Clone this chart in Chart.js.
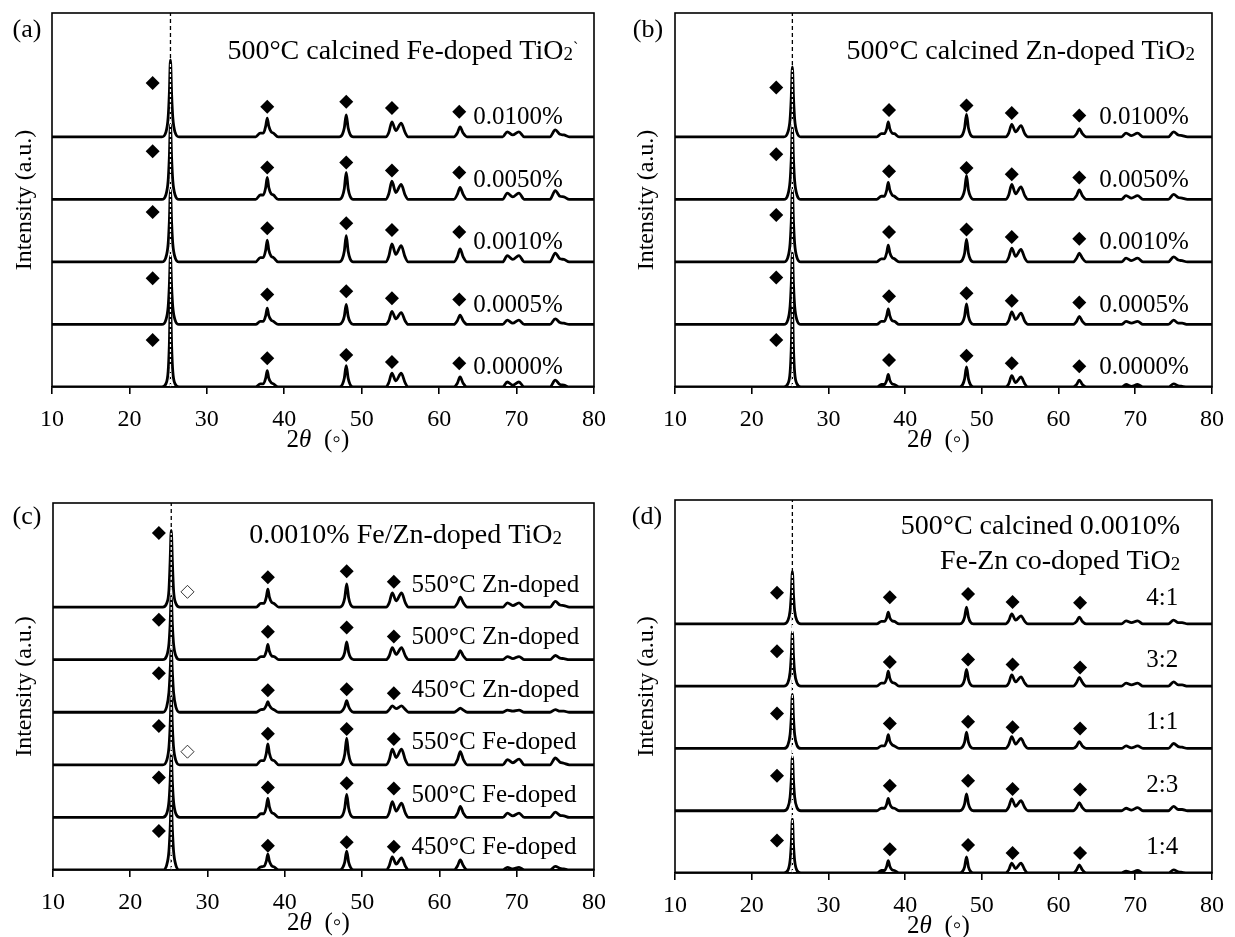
<!DOCTYPE html>
<html lang="en">
<head>
<meta charset="UTF-8">
<title>XRD patterns of doped TiO2</title>
<style>
  body { margin: 0; background: #fff; }
  #wrap { position: relative; width: 1235px; height: 937px; }
  canvas { position: absolute; }
</style>
</head>
<body>
<div id="wrap">
  <canvas id="chartA" width="617" height="468" style="left:0;top:0"></canvas>
  <canvas id="chartB" width="618" height="468" style="left:617px;top:0"></canvas>
  <canvas id="chartC" width="617" height="469" style="left:0;top:468px"></canvas>
  <canvas id="chartD" width="618" height="469" style="left:617px;top:468px"></canvas>
</div>
<script src="https://cdn.jsdelivr.net/npm/chart.js"></script>
<script>
const twoTheta = [10,
  24.2, 24.7, 25.0, 25.15, 25.3, 25.45, 25.6, 25.9, 26.4,
  36.3, 36.9, 37.3, 37.6, 37.8, 38.0, 38.3, 38.6, 39.2,
  47.1, 47.5, 47.75, 48.0, 48.25, 48.5, 48.9,
  53.1, 53.5, 53.9, 54.4, 55.1, 55.6, 56.0,
  61.9, 62.35, 62.7, 63.1, 63.6,
  68.2, 68.8, 69.5, 70.3, 71.0,
  74.3, 75.0, 75.6, 76.1, 76.8,
  80];
const xTicks = [10, 20, 30, 40, 50, 60, 70, 80];

// (a) Fe-doped, 500C (intensity above each baseline, 1 = trace spacing)
const a0100 = [0, 0,.07,.31,.68,1.23,.68,.31,.07,0, 0,.06,.06,.17,.30,.17,.08,.06,0, 0,.04,.14,.35,.14,.04,0, 0,.07,.24,.10,.22,.07,0, 0,.06,.16,.06,0, 0,.08,.03,.08,0, 0,.11,.04,.03,0, 0];
const a0050 = [0, 0,.07,.30,.66,1.20,.66,.30,.07,0, 0,.07,.07,.19,.35,.19,.09,.07,0, 0,.05,.17,.43,.17,.05,0, 0,.09,.29,.11,.24,.07,0, 0,.08,.19,.08,0, 0,.10,.04,.10,0, 0,.14,.05,.04,0, 0];
const a0010 = [0, 0,.07,.29,.63,1.15,.63,.29,.07,0, 0,.07,.07,.19,.35,.19,.09,.07,0, 0,.05,.17,.42,.17,.05,0, 0,.09,.29,.12,.26,.08,0, 0,.08,.21,.08,0, 0,.10,.04,.10,0, 0,.14,.05,.04,0, 0];
const a0005 = [0, 0,.07,.28,.61,1.10,.61,.28,.07,0, 0,.05,.05,.14,.26,.14,.07,.05,0, 0,.04,.13,.32,.13,.04,0, 0,.06,.21,.09,.19,.06,0, 0,.06,.15,.06,0, 0,.07,.02,.07,0, 0,.09,.03,.02,0, 0];
const a0000 = [0, 0,.05,.25,.66,1.40,.66,.25,.05,0, 0,.05,.05,.14,.26,.14,.07,.05,0, 0,.04,.14,.34,.14,.04,0, 0,.07,.22,.10,.22,.07,0, 0,.06,.16,.06,0, 0,.08,.03,.08,0, 0,.11,.04,.03,0, 0];
const labelsA = ['0.0100%', '0.0050%', '0.0010%', '0.0005%', '0.0000%'];
const markA_x = [23.0, 37.8, 48.0, 53.9, 62.6];
const markA = [[0.86,0.48,0.56,0.46,0.40],[0.77,0.51,0.59,0.46,0.43],[0.80,0.54,0.62,0.51,0.48],[0.74,0.48,0.53,0.42,0.40],[0.75,0.46,0.51,0.40,0.38]];

// (b) Zn-doped, 500C
const b0100 = [0, 0,.07,.28,.62,1.12,.62,.28,.07,0, 0,.05,.05,.13,.24,.13,.06,.05,0, 0,.04,.14,.36,.14,.04,0, 0,.06,.20,.08,.18,.05,0, 0,.05,.13,.05,0, 0,.06,.02,.06,0, 0,.08,.03,.02,0, 0];
const b0050 = [0, 0,.07,.29,.63,1.15,.63,.29,.07,0, 0,.05,.05,.15,.27,.15,.07,.05,0, 0,.05,.15,.38,.15,.05,0, 0,.07,.24,.09,.20,.06,0, 0,.06,.15,.06,0, 0,.06,.02,.06,0, 0,.08,.03,.02,0, 0];
const b0010 = [0, 0,.07,.29,.63,1.15,.63,.29,.07,0, 0,.05,.05,.15,.27,.15,.07,.05,0, 0,.04,.14,.36,.14,.04,0, 0,.07,.22,.09,.20,.06,0, 0,.06,.14,.06,0, 0,.06,.02,.06,0, 0,.08,.03,.02,0, 0];
const b0005 = [0, 0,.07,.29,.63,1.15,.63,.29,.07,0, 0,.05,.05,.14,.25,.14,.06,.05,0, 0,.04,.13,.33,.13,.04,0, 0,.06,.20,.08,.18,.05,0, 0,.05,.13,.05,0, 0,.05,.02,.05,0, 0,.07,.02,.02,0, 0];
const b0000 = [0, 0,.05,.23,.60,1.30,.60,.23,.05,0, 0,.04,.04,.11,.20,.11,.05,.04,0, 0,.04,.13,.32,.13,.04,0, 0,.05,.18,.07,.16,.05,0, 0,.04,.11,.04,0, 0,.04,.01,.04,0, 0,.05,.02,.01,0, 0];
const labelsB = ['0.0100%', '0.0050%', '0.0010%', '0.0005%', '0.0000%'];
const markB_x = [23.2, 37.9, 48.0, 53.9, 62.7];
const markB = [[0.79,0.43,0.50,0.38,0.34],[0.72,0.45,0.50,0.40,0.35],[0.75,0.48,0.52,0.40,0.37],[0.75,0.45,0.50,0.38,0.35],[0.75,0.43,0.50,0.38,0.33]];

// (c) 0.0010% Fe / Zn doped at 450-550C
const cZn550 = [0, 0,.07,.32,.85,1.46,.85,.32,.07,0, 0,.07,.07,.19,.34,.19,.09,.07,0, 0,.05,.18,.44,.18,.05,0, 0,.08,.27,.12,.27,.08,0, 0,.08,.19,.08,0, 0,.08,.03,.08,0, 0,.11,.04,.03,0, 0];
const cZn500 = [0, 0,.07,.30,.66,1.20,.66,.30,.07,0, 0,.06,.06,.16,.29,.16,.07,.06,0, 0,.04,.14,.34,.14,.04,0, 0,.07,.23,.10,.23,.07,0, 0,.07,.17,.07,0, 0,.06,.02,.06,0, 0,.08,.03,.02,0, 0];
const cZn450 = [0, 0,.10,.38,.75,1.20,.75,.38,.10,0, 0,.05,.06,.13,.20,.13,.07,.05,0, 0,.04,.11,.22,.11,.04,0, 0,.05,.12,.07,.12,.05,0, 0,.04,.08,.04,0, 0,.04,.02,.04,0, 0,.05,.02,.02,0, 0];
const cFe550 = [0, 0,.08,.33,.72,1.30,.72,.33,.08,0, 0,.08,.08,.22,.40,.22,.10,.08,0, 0,.06,.20,.51,.20,.06,0, 0,.09,.30,.14,.30,.09,0, 0,.10,.25,.10,0, 0,.10,.04,.11,0, 0,.13,.05,.03,0, 0];
const cFe500 = [0, 0,.07,.30,.66,1.20,.66,.30,.07,0, 0,.07,.07,.20,.36,.20,.09,.07,0, 0,.05,.18,.44,.18,.05,0, 0,.09,.30,.12,.27,.08,0, 0,.08,.21,.08,0, 0,.08,.03,.08,0, 0,.10,.04,.03,0, 0];
const cFe450 = [0, 0,.09,.36,.76,1.30,.76,.36,.09,0, 0,.06,.07,.17,.30,.17,.08,.06,0, 0,.05,.15,.36,.15,.05,0, 0,.08,.25,.11,.23,.07,0, 0,.08,.19,.08,0, 0,.05,.02,.05,0, 0,.07,.03,.02,0, 0];
const labelsC = ['550°C Zn-doped', '500°C Zn-doped', '450°C Zn-doped', '550°C Fe-doped', '500°C Fe-doped', '450°C Fe-doped'];
const markC_x = [23.7, 37.8, 48.0, 54.1];
const markC = [[1.41,0.57,0.68,0.48],[0.76,0.53,0.61,0.44],[0.74,0.42,0.44,0.36],[0.74,0.59,0.68,0.49],[0.76,0.57,0.65,0.55],[0.74,0.46,0.53,0.44]];
const openC_x = 27.4;
const openC = [0.29, null, null, 0.25, null, null];

// (d) Fe-Zn co-doped, ratios
const d41 = [0, 0,.05,.21,.46,.84,.46,.21,.05,0, 0,.04,.04,.10,.19,.10,.05,.04,0, 0,.03,.11,.27,.11,.03,0, 0,.05,.16,.06,.13,.04,0, 0,.04,.11,.04,0, 0,.05,.02,.05,0, 0,.06,.02,.02,0, 0];
const d32 = [0, 0,.05,.22,.48,.87,.48,.22,.05,0, 0,.05,.05,.13,.24,.13,.06,.05,0, 0,.03,.11,.27,.11,.03,0, 0,.05,.18,.07,.15,.05,0, 0,.06,.14,.06,0, 0,.05,.02,.05,0, 0,.07,.02,.02,0, 0];
const d11 = [0, 0,.05,.22,.48,.87,.48,.22,.05,0, 0,.04,.04,.12,.22,.12,.06,.04,0, 0,.03,.10,.26,.10,.03,0, 0,.06,.19,.07,.16,.05,0, 0,.04,.11,.04,0, 0,.04,.01,.04,0, 0,.08,.03,.02,0, 0];
const d23 = [0, 0,.05,.22,.48,.87,.48,.22,.05,0, 0,.04,.04,.11,.20,.11,.05,.04,0, 0,.03,.11,.27,.11,.03,0, 0,.06,.19,.07,.16,.05,0, 0,.05,.13,.05,0, 0,.04,.01,.05,0, 0,.07,.02,.02,0, 0];
const d14 = [0, 0,.04,.20,.45,.87,.45,.20,.04,0, 0,.04,.04,.11,.20,.11,.05,.04,0, 0,.03,.10,.26,.10,.03,0, 0,.05,.16,.07,.16,.05,0, 0,.05,.13,.05,0, 0,.03,.01,.04,0, 0,.05,.02,.01,0, 0];
const labelsD = ['4:1', '3:2', '1:1', '2:3', '1:4'];
const markD_x = [23.3, 38.0, 48.2, 54.0, 62.8];
const markD = [[0.50,0.43,0.48,0.35,0.34],[0.56,0.39,0.43,0.35,0.30],[0.56,0.40,0.43,0.34,0.32],[0.56,0.40,0.48,0.35,0.34],[0.52,0.38,0.45,0.32,0.32]];

const FONT = '"Liberation Serif", "Times New Roman", serif';

function drawRich(ctx, parts, x, y, align) {
  // parts: [text, size, dy, italic]
  let total = 0;
  parts.forEach(p => {
    ctx.font = (p[3] ? 'italic ' : '') + p[1] + 'px ' + FONT;
    total += ctx.measureText(p[0]).width;
  });
  let cx = align === 'right' ? x - total : align === 'center' ? x - total / 2 : x;
  ctx.textAlign = 'left';
  parts.forEach(p => {
    ctx.font = (p[3] ? 'italic ' : '') + p[1] + 'px ' + FONT;
    ctx.fillText(p[0], cx, y + (p[2] || 0));
    cx += ctx.measureText(p[0]).width;
  });
}

function makePanel(p) {
  const n = p.traces.length;
  const iPeak = twoTheta.indexOf(p.peakX);
  const datasets = [];
  datasets.push({ data: [{x: p.peakX, y: 0}, {x: p.peakX, y: p.yMax}], borderColor: '#000',
    borderWidth: 1.3, borderDash: [4, 3], pointRadius: 0, order: 4 });
  const topPeak = (n - 1) + p.traces[0][iPeak];
  datasets.push({ data: [{x: p.peakX, y: 0}, {x: p.peakX, y: topPeak - 0.05}], borderColor: '#fff',
    borderWidth: 1.2, borderDash: [3, 2], pointRadius: 0, order: 0 });

  p.traces.forEach((tr, k) => {
    const off = n - 1 - k;
    datasets.push({
      data: twoTheta.map((x, i) => ({x: x, y: off + tr[i]})),
      borderColor: '#000', borderWidth: 2.8, pointRadius: 0,
      cubicInterpolationMode: 'monotone', order: 2
    });
    datasets.push({
      data: p.markX.map((x, i) => ({x: x, y: off + p.marks[k][i]})),
      showLine: false, pointStyle: 'rectRot', pointRadius: 7,
      pointBackgroundColor: '#000', pointBorderColor: '#000', pointBorderWidth: 0, order: 1
    });
    if (p.open && p.open[k] != null) {
      datasets.push({
        data: [{x: p.openX, y: off + p.open[k]}],
        showLine: false, pointStyle: 'rectRot', pointRadius: 6.5,
        pointBackgroundColor: '#fff', pointBorderColor: '#000', pointBorderWidth: 0.8, order: 1
      });
    }
  });

  const textPlugin = {
    id: 'panelText',
    afterDatasetsDraw(chart) {
      const ctx = chart.ctx, area = chart.chartArea;
      const xs = chart.scales.x, ys = chart.scales.y;
      ctx.save();
      ctx.strokeStyle = '#000';
      ctx.lineWidth = 1.6;
      ctx.strokeRect(area.left, area.top, area.right - area.left, area.bottom - area.top);
      ctx.fillStyle = '#000';
      ctx.textBaseline = 'middle';
      drawRich(ctx, [[p.letter, 26]], p.letterPos[0], p.letterPos[1], 'center');
      drawRich(ctx, [['2', 25], ['θ', 25, 0, true], ['  (◦)', 25]], (area.left + area.right) / 2 - 5, area.bottom + 53, 'center');
      ctx.save();
      ctx.translate(p.yTitleX, (area.top + area.bottom) / 2);
      ctx.rotate(-Math.PI / 2);
      drawRich(ctx, [['Intensity (a.u.)', 24]], 0, 0, 'center');
      ctx.restore();
      p.titles.forEach(t => drawRich(ctx, t.parts, xs.getPixelForValue(t.x), ys.getPixelForValue(t.y), t.align));
      p.labels.forEach((lab, k) => {
        const off = n - 1 - k;
        drawRich(ctx, [[lab, 25]], xs.getPixelForValue(p.labelX), ys.getPixelForValue(off + p.labelDy), p.labelAlign);
      });
      ctx.restore();
    }
  };

  new Chart(document.getElementById(p.id), {
    type: 'line',
    data: { datasets: datasets },
    options: {
      responsive: false,
      animation: false,
      events: [],
      layout: { padding: p.pad },
      plugins: { legend: { display: false }, tooltip: { enabled: false } },
      scales: {
        x: {
          type: 'linear', min: 10, max: 80,
          afterBuildTicks: s => { s.ticks = xTicks.map(v => ({value: v})); },
          afterFit: s => { s.height = 50; },
          ticks: { color: '#000', font: { family: FONT, size: 24 }, padding: 11, maxRotation: 0 },
          grid: { drawOnChartArea: false, drawTicks: true, tickLength: 7, color: '#000', lineWidth: 1.6 },
          border: { display: true, color: '#000', width: 1.6 }
        },
        y: { display: false, min: 0, max: p.yMax }
      }
    },
    plugins: [textPlugin]
  });
}

makePanel({
  id: 'chartA', letter: '(a)', letterPos: [27, 30], yTitleX: 25,
  traces: [a0100, a0050, a0010, a0005, a0000], yMax: 5.98, peakX: 25.3,
  pad: { left: 52, top: 13, right: 21, bottom: 31 },
  markX: markA_x, marks: markA,
  labels: labelsA, labelX: 64.4, labelDy: 0.31, labelAlign: 'left',
  titles: [{ x: 32.65, y: 5.36, align: 'left', parts: [['500°C calcined Fe-doped TiO', 28], ['2', 19, 3], ['`', 16, -3]] }]
});
makePanel({
  id: 'chartB', letter: '(b)', letterPos: [31, 30], yTitleX: 30,
  traces: [b0100, b0050, b0010, b0005, b0000], yMax: 5.98, peakX: 25.3,
  pad: { left: 58, top: 13, right: 17, bottom: 31 },
  markX: markB_x, marks: markB,
  labels: labelsB, labelX: 65.3, labelDy: 0.31, labelAlign: 'left',
  titles: [{ x: 32.35, y: 5.36, align: 'left', parts: [['500°C calcined Zn-doped TiO', 28], ['2', 19, 3]] }]
});
makePanel({
  id: 'chartC', letter: '(c)', letterPos: [27, 49], yTitleX: 25,
  traces: [cZn550, cZn500, cZn450, cFe550, cFe500, cFe450], yMax: 6.98, peakX: 25.3,
  pad: { left: 53, top: 35, right: 21, bottom: 17 },
  markX: markC_x, marks: markC, open: openC, openX: openC_x,
  labels: labelsC, labelX: 56.4, labelDy: 0.42, labelAlign: 'left',
  titles: [{ x: 35.4, y: 6.35, align: 'left', parts: [['0.0010% Fe/Zn-doped TiO', 28], ['2', 19, 3]] }]
});
makePanel({
  id: 'chartD', letter: '(d)', letterPos: [30, 49], yTitleX: 30,
  traces: [d41, d32, d11, d23, d14], yMax: 5.99, peakX: 25.3,
  pad: { left: 58, top: 32, right: 16, bottom: 14 },
  markX: markD_x, marks: markD,
  labels: labelsD, labelX: 75.6, labelDy: 0.41, labelAlign: 'right',
  titles: [
    { x: 75.85, y: 5.56, align: 'right', parts: [['500°C calcined 0.0010%', 28]] },
    { x: 75.85, y: 5.0, align: 'right', parts: [['Fe-Zn co-doped TiO', 28], ['2', 19, 3]] }
  ]
});
</script>
</body>
</html>
